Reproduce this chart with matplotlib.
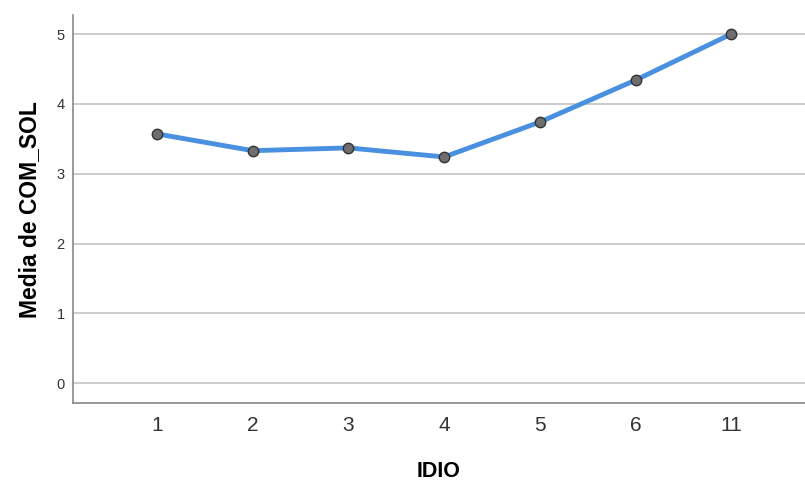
import matplotlib
matplotlib.use("Agg")
import matplotlib.pyplot as plt

plt.rcParams['font.family'] = ['Liberation Sans', 'DejaVu Sans']

categories = ['1', '2', '3', '4', '5', '6', '11']
means = [3.57, 3.33, 3.37, 3.24, 3.74, 4.34, 5.0]

fig = plt.figure(figsize=(8.05, 4.84), dpi=100)
ax = fig.add_axes([0.0907, 0.1667, 0.9093, 0.8023])

x = list(range(len(categories)))
ax.plot(x, means, color='#4a90e0', linewidth=3.5, zorder=3,
        marker='o', markersize=7.5, markerfacecolor='#6e6e6e',
        markeredgecolor='#333333', markeredgewidth=1.0, solid_capstyle='round')

ax.set_xlim(-0.878, 6.77)
ax.set_ylim(-0.286, 5.272)
ax.set_xticks(x)
ax.set_xticklabels(categories)
ax.set_yticks(range(6))

ax.grid(axis='y', color='#c8c8c8', linewidth=1.3)
ax.set_axisbelow(True)
ax.tick_params(axis='both', length=0)
ax.tick_params(axis='y', labelsize=10.5, pad=6, labelcolor='#333333')
ax.tick_params(axis='x', labelsize=15, pad=9, labelcolor='#333333')

for side in ['top', 'right']:
    ax.spines[side].set_visible(False)
for side in ['left', 'bottom']:
    ax.spines[side].set_color('#888888')
    ax.spines[side].set_linewidth(1.2)

ax.set_xlabel('IDIO', fontsize=15.5, fontweight='bold', labelpad=19)
ax.set_ylabel('Media de COM_SOL', fontsize=16.5, fontweight='bold', labelpad=11)

fig.savefig('out.png', dpi=100)
